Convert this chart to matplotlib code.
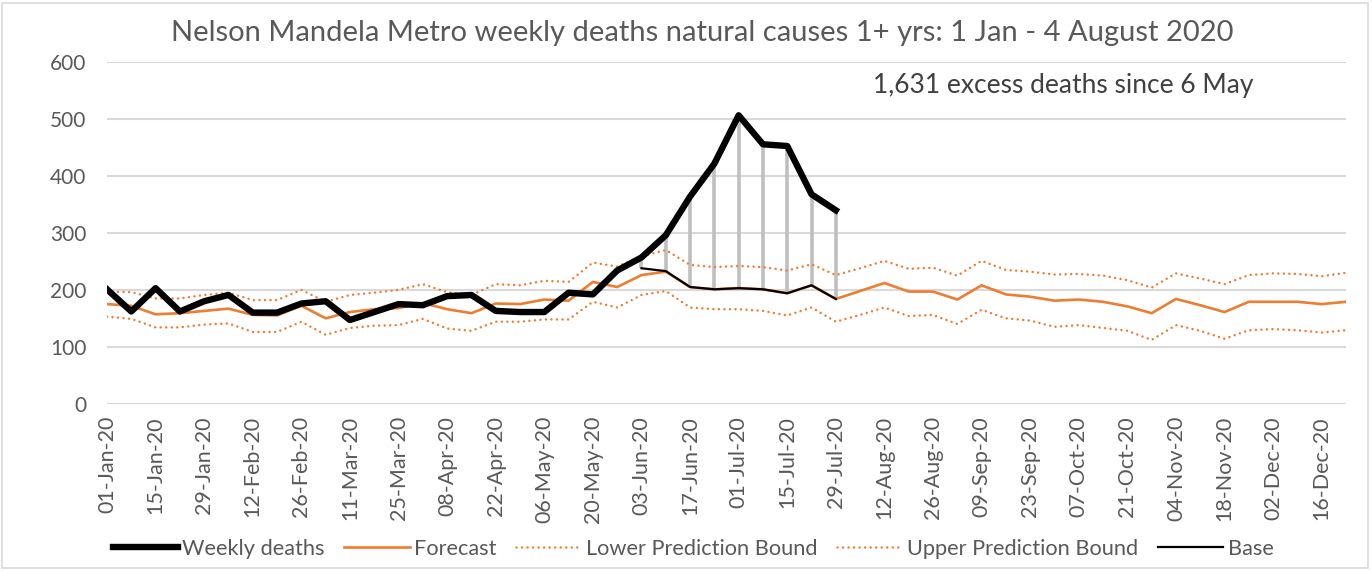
import matplotlib
matplotlib.use("Agg")
import matplotlib.pyplot as plt
from matplotlib.patches import Rectangle
import datetime as dt

# ---- data ----
start = dt.date(2020, 1, 1)
weeks = [start + dt.timedelta(days=7 * i) for i in range(52)]
week_labels = [d.strftime("%d-%b-%y") for d in weeks]

weekly_deaths = [201, 162, 203, 162, 180, 191, 160, 160, 176, 180, 147, 161,
                 175, 173, 189, 191, 163, 161, 161, 195, 192, 234, 257, 296,
                 364, 422, 507, 456, 453, 368, 340]

forecast = [175, 172, 157, 159, 163, 167, 156, 155, 172, 150, 161, 166,
            168, 177, 166, 159, 176, 175, 183, 181, 214, 205, 226, 232,
            205, 201, 203, 201, 194, 208, 184, 198, 212, 197, 197, 183,
            208, 192, 188, 181, 183, 179, 171, 159, 184, 173, 161, 179,
            179, 179, 175, 179]

lower_bound = [153, 149, 134, 134, 139, 141, 126, 126, 144, 121, 133, 137,
               138, 149, 132, 128, 144, 144, 148, 148, 179, 169, 191, 198,
               169, 166, 166, 163, 155, 169, 144, 156, 169, 154, 156, 140,
               165, 150, 146, 135, 138, 133, 128, 112, 138, 128, 114, 129,
               131, 129, 125, 129]

upper_bound = [197, 196, 185, 185, 191, 195, 182, 182, 200, 179, 191, 195,
               200, 210, 196, 191, 210, 208, 216, 214, 248, 241, 259, 270,
               244, 240, 242, 240, 234, 245, 226, 238, 251, 237, 239, 225,
               251, 235, 232, 227, 228, 225, 217, 204, 229, 220, 210, 226,
               229, 228, 224, 230]

base_start = 22
base = [238, 233, 205, 201, 203, 201, 194, 208, 184]

annotation = "1,631 excess deaths since 6 May"
title = "Nelson Mandela Metro weekly deaths natural causes 1+ yrs: 1 Jan - 4 August 2020"

# ---- plot ----
plt.rcParams['font.family'] = ['Lato', 'DejaVu Sans']
TXT = "#595959"
ORANGE = "#ED7D31"

fig = plt.figure(figsize=(13.72, 5.71), dpi=100)
ax = fig.add_axes([107 / 1372, 1 - 403.6 / 571, (1346 - 107) / 1372, (403.6 - 62.4) / 571])

x_all = list(range(len(weeks)))
x_wd = list(range(len(weekly_deaths)))
x_base = list(range(base_start, base_start + len(base)))

# drop lines between weekly deaths and base
for xi, b in zip(x_base, base):
    ax.plot([xi, xi], [b, weekly_deaths[xi]], color="#BFBFBF", lw=2.6,
            solid_capstyle="butt", zorder=2)

dots = (0, (0.01, 2.2))
l1, = ax.plot(x_wd, weekly_deaths, color="black", lw=4.6, zorder=5,
              solid_joinstyle="round", label="Weekly deaths")
l2, = ax.plot(x_all, forecast, color=ORANGE, lw=1.9, zorder=3, label="Forecast")
l3, = ax.plot(x_all, lower_bound, color=ORANGE, lw=1.8, ls=dots,
              dash_capstyle="round", zorder=3, label="Lower Prediction Bound")
l4, = ax.plot(x_all, upper_bound, color=ORANGE, lw=1.8, ls=dots,
              dash_capstyle="round", zorder=3, label="Upper Prediction Bound")
l5, = ax.plot(x_base, base, color="black", lw=1.6, zorder=4, label="Base")

ax.set_xlim(0, len(weeks) - 1)
ax.set_ylim(0, 600)
ax.set_yticks(range(0, 601, 100))
ax.yaxis.grid(True, color="#D9D9D9", lw=1.5)
ax.set_axisbelow(True)
for s in ax.spines.values():
    s.set_visible(False)
ax.tick_params(axis="both", length=0, colors=TXT)
ax.tick_params(axis="y", pad=15, labelsize=15)
ax.set_xticks(x_all[::2])
ax.set_xticklabels(week_labels[::2], rotation=90, fontsize=15.5, color=TXT)
ax.tick_params(axis="x", pad=9)

fig.text(702 / 1372, 1 - 33 / 571, title, ha="center", va="center",
         fontsize=21, color=TXT)
fig.text(1063 / 1372, 1 - 86 / 571, annotation, ha="center", va="center",
         fontsize=19, color="#404040")

leg = fig.legend(handles=[l1, l2, l3, l4, l5], loc="center",
                 bbox_to_anchor=(693 / 1372, 1 - 549 / 571), ncol=5,
                 frameon=False, fontsize=15.7, handlelength=3.0,
                 columnspacing=0.9, handletextpad=0.2)
for t in leg.get_texts():
    t.set_color(TXT)

fig.patches.append(Rectangle((2 / 1372, 3 / 571), 1366 / 1372, 565 / 571,
                             transform=fig.transFigure, fill=False,
                             edgecolor="#D9D9D9", lw=1.2))

fig.savefig("out.png", dpi=100)
